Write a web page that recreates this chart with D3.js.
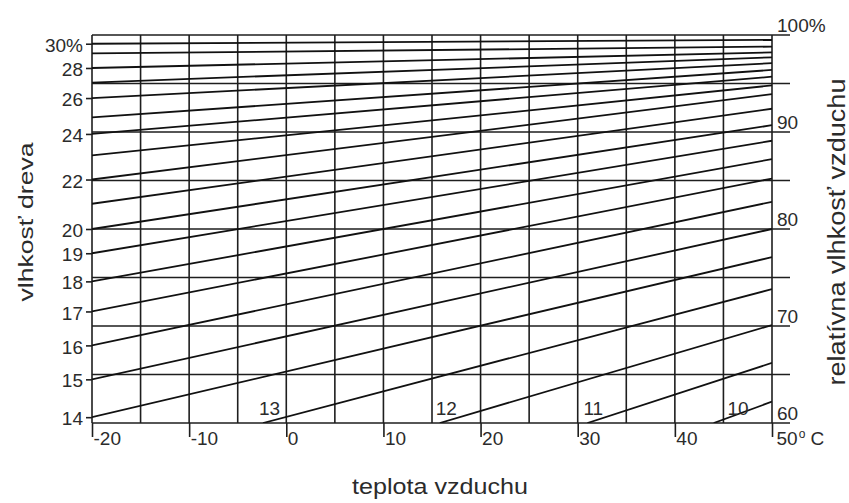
<!DOCTYPE html>
<html lang="sk">
<head>
<meta charset="UTF-8">
<title>vlhkosť dreva</title>
<script src="https://cdnjs.cloudflare.com/ajax/libs/d3/7.8.5/d3.min.js"></script>
<style>
    body { margin: 0; background: #fff; }
    svg { display: block; }
    text { font-family: "Liberation Sans", Arial, sans-serif; fill: #2b2b2b; }
</style>
</head>
<body>
<div id="chart"></div>
<script>
// air temperature ticks (deg C)
var tempTicks = [-20, -10, 0, 10, 20, 30, 40, 50];
var tempGrid = [-20, -15, -10, -5, 0, 5, 10, 15, 20, 25, 30, 35, 40, 45, 50];

// relative air humidity (right axis)
var rhGrid = [60, 65, 70, 75, 80, 85, 90, 95, 100];
var rhLabels = [60, 70, 80, 90, 100];

// wood moisture isolines: value, where they start (temp, rh) and rh at 50 C
var emcValues = [10, 11, 12, 13, 14, 15, 16, 17, 18, 19, 20, 21, 22, 23, 24, 25, 26, 27, 28, 29, 30];
var startTemp = [44.0, 31.0, 15.8, -2.4, -20, -20, -20, -20, -20, -20, -20, -20, -20, -20, -20, -20, -20, -20, -20, -20, -20];
var startRH = [60, 60, 60, 60, 60.6, 64.5, 68.0, 71.5, 74.6, 77.5, 80.0, 82.6, 85.1, 87.6, 89.8, 91.5, 93.5, 95.1, 96.6, 98.1, 99.1];
var endRH = [62.2, 66.2, 70.1, 73.8, 77.1, 80.0, 82.8, 85.2, 87.2, 89.1, 90.7, 92.4, 93.9, 94.8, 95.7, 96.4, 97.1, 97.7, 98.2, 98.8, 99.5];
var endTemp = 50;

// wood moisture labels on the left axis
var woodTicks = [14, 15, 16, 17, 18, 19, 20, 22, 24, 26, 28, 30];
// isolines labelled where they leave the bottom edge
var bottomLabels = [10, 11, 12, 13];

var W = 849, H = 503;
var X0 = 92, X1 = 772, Y0 = 35, Y1 = 423;
var INK = '#1e1e1e';

var svg = d3.select('#chart').append('svg')
    .attr('width', W)
    .attr('height', H);

svg.append('rect').attr('width', W).attr('height', H).attr('fill', '#fff');

var x = d3.scaleLinear().domain([-20, 50]).range([X0, X1]);
var y = d3.scaleLinear().domain([60, 100]).range([Y1, Y0]);

var lines = emcValues.map(function (v, i) {
    return { v: v, pts: [[startTemp[i], startRH[i]], [endTemp, endRH[i]]] };
});

// wood moisture -> pixel at -20 C (where isolines meet the left edge)
var leftLines = lines.filter(function (d) { return d.pts[0][0] === -20; });
var woodScale = d3.scaleLinear()
    .domain(leftLines.map(function (d) { return d.v; }))
    .range(leftLines.map(function (d) { return y(d.pts[0][1]); }));

svg.append('defs').append('clipPath').attr('id', 'plot')
    .append('rect')
    .attr('x', X0).attr('y', Y0)
    .attr('width', X1 - X0).attr('height', Y1 - Y0);

// grid
var grid = svg.append('g').attr('stroke', INK).attr('stroke-width', 1.6);

grid.selectAll('.vg').data(tempGrid).enter().append('line')
    .attr('x1', function (d) { return x(d); })
    .attr('x2', function (d) { return x(d); })
    .attr('y1', Y0)
    .attr('y2', Y1);

grid.selectAll('.hg').data(rhGrid).enter().append('line')
    .attr('x1', X0)
    .attr('x2', X1 + 18)
    .attr('y1', function (d) { return y(d); })
    .attr('y2', function (d) { return y(d); });

// isolines
var line = d3.line()
    .x(function (d) { return x(d[0]); })
    .y(function (d) { return y(d[1]); });

svg.append('g').attr('clip-path', 'url(#plot)')
    .selectAll('path').data(lines).enter().append('path')
    .attr('d', function (d) { return line(d.pts); })
    .attr('fill', 'none')
    .attr('stroke', '#111')
    .attr('stroke-width', 1.8);

// bottom axis
var xAxis = svg.append('g')
    .attr('transform', 'translate(0,' + Y1 + ')')
    .call(d3.axisBottom(x)
        .tickValues(tempTicks)
        .tickSize(14)
        .tickFormat(function (d) { return String(d); }));

xAxis.select('.domain').remove();
xAxis.selectAll('.tick line').attr('stroke', INK).attr('stroke-width', 1.6);
xAxis.selectAll('.tick text')
    .attr('x', 1)
    .attr('y', 9)
    .attr('text-anchor', 'start')
    .attr('font-size', 19)
    .attr('font-family', null)
    .attr('fill', '#2b2b2b');

// "50° C"
xAxis.selectAll('.tick text')
    .filter(function (d) { return d === 50; })
    .each(function () {
        var t = d3.select(this);
        t.attr('x', 4).text('50');
        t.append('tspan').attr('font-size', 12).attr('dx', 1).attr('dy', -7).text('o');
        t.append('tspan').attr('dy', 7).text(' C');
    });

// left axis: wood moisture
var yAxis = svg.append('g')
    .attr('transform', 'translate(' + X0 + ',0)')
    .call(d3.axisLeft(woodScale)
        .tickValues(woodTicks)
        .tickSize(6)
        .tickPadding(3)
        .tickFormat(function (d) { return d === 30 ? '30%' : String(d); }));

yAxis.select('.domain').remove();
yAxis.selectAll('.tick line').attr('stroke', INK).attr('stroke-width', 1.6);
yAxis.selectAll('.tick text')
    .attr('font-size', 19)
    .attr('font-family', null)
    .attr('dy', '0.4em')
    .attr('fill', '#2b2b2b');

// right axis: relative humidity
var rAxis = svg.append('g')
    .attr('transform', 'translate(' + X1 + ',0)')
    .call(d3.axisRight(y)
        .tickValues(rhLabels)
        .tickSize(0)
        .tickPadding(5)
        .tickFormat(function (d) { return d === 100 ? '100%' : String(d); }));

rAxis.select('.domain').remove();
rAxis.selectAll('.tick text')
    .attr('dy', -4)
    .attr('font-size', 19)
    .attr('font-family', null)
    .attr('fill', '#2b2b2b');

// isoline labels at the bottom
svg.append('g').selectAll('text')
    .data(lines.filter(function (d) { return bottomLabels.indexOf(d.v) >= 0; }))
    .enter().append('text')
    .attr('x', function (d) {
        var lx = x(d.pts[0][0]) - 4;
        // keep the number clear of a grid line
        tempGrid.forEach(function (g) {
            if (x(g) > lx && x(g) < lx + 20) lx = x(g) + 4;
        });
        return lx;
    })
    .attr('y', Y1 - 8)
    .attr('font-size', 19)
    .text(function (d) { return d.v; });

// axis titles
svg.append('text')
    .attr('transform', 'translate(33,222) rotate(-90)')
    .attr('text-anchor', 'middle')
    .attr('font-size', 21)
    .attr('textLength', 159)
    .attr('lengthAdjust', 'spacingAndGlyphs')
    .text('vlhkosť dreva');

svg.append('text')
    .attr('transform', 'translate(845,232) rotate(-90)')
    .attr('text-anchor', 'middle')
    .attr('font-size', 23)
    .attr('textLength', 307)
    .attr('lengthAdjust', 'spacingAndGlyphs')
    .text('relatívna vlhkosť vzduchu');

svg.append('text')
    .attr('x', 440)
    .attr('y', 494)
    .attr('text-anchor', 'middle')
    .attr('font-size', 22)
    .attr('textLength', 176)
    .attr('lengthAdjust', 'spacingAndGlyphs')
    .text('teplota vzduchu');
</script>
</body>
</html>
